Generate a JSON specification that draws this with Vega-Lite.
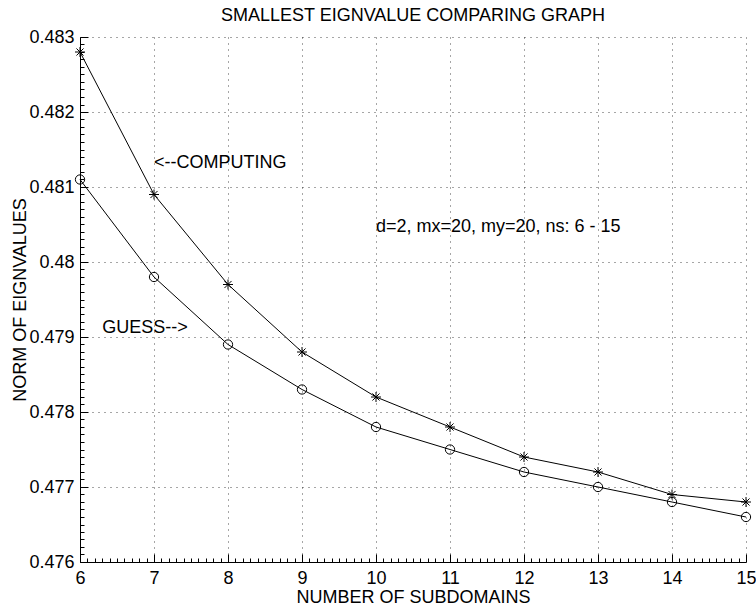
{
  "$schema": "https://vega.github.io/schema/vega-lite/v6.json",
  "width": 666,
  "height": 525,
  "autosize": {"type": "none"},
  "padding": {"left": 80, "top": 37, "right": 10, "bottom": 47},
  "background": "white",
  "config": {
    "view": {"stroke": null},
    "font": "Liberation Sans",
    "axis": {"labelFont": "Liberation Sans", "titleFont": "Liberation Sans", "labelColor": "black", "titleColor": "black", "titleFontWeight": "normal", "labelFontSize": 18, "titleFontSize": 18, "domainColor": "black", "domainWidth": 1, "tickColor": "black", "tickWidth": 1}
  },
  "title": {"text": "SMALLEST EIGNVALUE COMPARING GRAPH", "font": "Liberation Sans", "fontSize": 18, "fontWeight": "normal", "color": "black", "anchor": "middle", "offset": 3},
  "datasets": {
    "series": [
      {"n": 6, "v": 0.4828, "s": "COMPUTING"},
      {"n": 7, "v": 0.4809, "s": "COMPUTING"},
      {"n": 8, "v": 0.4797, "s": "COMPUTING"},
      {"n": 9, "v": 0.4788, "s": "COMPUTING"},
      {"n": 10, "v": 0.4782, "s": "COMPUTING"},
      {"n": 11, "v": 0.4778, "s": "COMPUTING"},
      {"n": 12, "v": 0.4774, "s": "COMPUTING"},
      {"n": 13, "v": 0.4772, "s": "COMPUTING"},
      {"n": 14, "v": 0.4769, "s": "COMPUTING"},
      {"n": 15, "v": 0.4768, "s": "COMPUTING"},
      {"n": 6, "v": 0.4811, "s": "GUESS"},
      {"n": 7, "v": 0.4798, "s": "GUESS"},
      {"n": 8, "v": 0.4789, "s": "GUESS"},
      {"n": 9, "v": 0.4783, "s": "GUESS"},
      {"n": 10, "v": 0.4778, "s": "GUESS"},
      {"n": 11, "v": 0.4775, "s": "GUESS"},
      {"n": 12, "v": 0.4772, "s": "GUESS"},
      {"n": 13, "v": 0.4770, "s": "GUESS"},
      {"n": 14, "v": 0.4768, "s": "GUESS"},
      {"n": 15, "v": 0.4766, "s": "GUESS"}
    ],
    "notes": [
      {"n": 7.0, "v": 0.48132, "t": "<--COMPUTING"},
      {"n": 6.3, "v": 0.47912, "t": "GUESS-->"},
      {"n": 10.0, "v": 0.48047, "t": "d=2, mx=20, my=20, ns: 6 - 15"}
    ]
  },
  "encoding": {
    "x": {
      "field": "n", "type": "quantitative",
      "scale": {"domain": [6, 15], "nice": false, "zero": false},
      "axis": {
        "title": "NUMBER OF SUBDOMAINS",
        "titlePadding": -3,
        "values": [6,6.1,6.2,6.3,6.4,6.5,6.6,6.7,6.8,6.9,7,7.1,7.2,7.3,7.4,7.5,7.6,7.7,7.8,7.9,8,8.1,8.2,8.3,8.4,8.5,8.6,8.7,8.8,8.9,9,9.1,9.2,9.3,9.4,9.5,9.6,9.7,9.8,9.9,10,10.1,10.2,10.3,10.4,10.5,10.6,10.7,10.8,10.9,11,11.1,11.2,11.3,11.4,11.5,11.6,11.7,11.8,11.9,12,12.1,12.2,12.3,12.4,12.5,12.6,12.7,12.8,12.9,13,13.1,13.2,13.3,13.4,13.5,13.6,13.7,13.8,13.9,14,14.1,14.2,14.3,14.4,14.5,14.6,14.7,14.8,14.9,15],
        "labelExpr": "abs(datum.value - round(datum.value)) < 0.01 ? toString(round(datum.value)) : ''",
        "labelOverlap": false,
        "labelFlush": false,
        "labelPadding": 15,
        "grid": true,
        "gridColor": "black",
        "gridDash": [1, 5],
        "gridOpacity": {"condition": {"test": "abs(datum.value - round(datum.value)) < 0.01", "value": 0.7}, "value": 0},
        "tickSize": {"condition": {"test": "abs(datum.value - round(datum.value)) < 0.01", "value": -8}, "value": -4}
      }
    },
    "y": {
      "field": "v", "type": "quantitative",
      "scale": {"domain": [0.476, 0.483], "nice": false, "zero": false},
      "axis": {
        "title": "NORM OF EIGNVALUES",
        "titlePadding": -1,
        "values": [0.476,0.4761,0.4762,0.4763,0.4764,0.4765,0.4766,0.4767,0.4768,0.4769,0.477,0.4771,0.4772,0.4773,0.4774,0.4775,0.4776,0.4777,0.4778,0.4779,0.478,0.4781,0.4782,0.4783,0.4784,0.4785,0.4786,0.4787,0.4788,0.4789,0.479,0.4791,0.4792,0.4793,0.4794,0.4795,0.4796,0.4797,0.4798,0.4799,0.48,0.4801,0.4802,0.4803,0.4804,0.4805,0.4806,0.4807,0.4808,0.4809,0.481,0.4811,0.4812,0.4813,0.4814,0.4815,0.4816,0.4817,0.4818,0.4819,0.482,0.4821,0.4822,0.4823,0.4824,0.4825,0.4826,0.4827,0.4828,0.4829,0.483],
        "labelExpr": "abs(datum.value*1000 - round(datum.value*1000)) < 0.01 ? toString(round(datum.value*1000)/1000) : ''",
        "labelOverlap": false,
        "labelFlush": false,
        "labelPadding": 14,
        "grid": true,
        "gridColor": "black",
        "gridDash": [1, 5],
        "gridOpacity": {"condition": {"test": "abs(datum.value*1000 - round(datum.value*1000)) < 0.01", "value": 0.7}, "value": 0},
        "tickSize": {"condition": {"test": "abs(datum.value*1000 - round(datum.value*1000)) < 0.01", "value": -8}, "value": -4}
      }
    }
  },
  "layer": [
    {
      "data": {"name": "series"},
      "mark": {"type": "line", "color": "black", "strokeWidth": 1},
      "encoding": {"detail": {"field": "s", "type": "nominal"}}
    },
    {
      "data": {"name": "series"},
      "mark": {"type": "point", "filled": false, "stroke": "black", "strokeWidth": 1, "opacity": 1},
      "encoding": {
        "shape": {"field": "s", "type": "nominal", "legend": null,
          "scale": {"domain": ["COMPUTING", "GUESS"], "range": ["M0,-1L0,1M-1,0L1,0M-0.7071,-0.7071L0.7071,0.7071M-0.7071,0.7071L0.7071,-0.7071", "circle"]}},
        "size": {"field": "s", "type": "nominal", "legend": null,
          "scale": {"domain": ["COMPUTING", "GUESS"], "range": [100, 86]}}
      }
    },
    {
      "data": {"name": "notes"},
      "mark": {"type": "text", "align": "left", "baseline": "middle", "font": "Liberation Sans", "fontSize": 18, "color": "black"},
      "encoding": {"text": {"field": "t", "type": "nominal"}}
    }
  ]
}
